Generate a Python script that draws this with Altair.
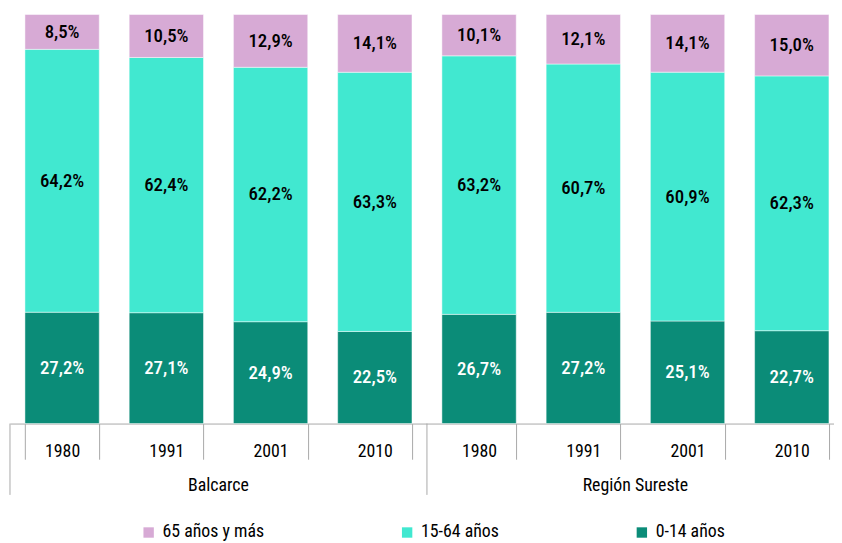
import altair as alt
import pandas as pd

regions = ["Balcarce", "Región Sureste"]
years = ["1980", "1991", "2001", "2010"]
age_groups = ["65 años y más", "15-64 años", "0-14 años"]
colors = ["#D7AAD5", "#41E8D0", "#0B8C78"]

v65 = [8.5, 10.5, 12.9, 14.1, 10.1, 12.1, 14.1, 15.0]
v1564 = [64.2, 62.4, 62.2, 63.3, 63.2, 60.7, 60.9, 62.3]
v014 = [27.2, 27.1, 24.9, 22.5, 26.7, 27.2, 25.1, 22.7]

FONT = "'Roboto Condensed', 'DejaVu Sans Condensed', Roboto, sans-serif"
PI = 0.287  # padding inner

keys = [f"{r}|{y}" for r in regions for y in years]
rows = []
for i, k in enumerate(keys):
    for order, (g, vals, tc) in enumerate(zip(["0-14 años", "15-64 años", "65 años y más"],
                                           [v014, v1564, v65],
                                           ["#FFFFFF", "#000000", "#000000"])):
        rows.append({"key": k, "age": g, "value": vals[i], "order": order, "tcolor": tc})
df = pd.DataFrame(rows)

xscale = alt.Scale(domain=keys, range=[0, 842], paddingInner=PI, paddingOuter=PI / 2)
xscale_step = alt.Scale(domain=keys, range=[0, 842], paddingInner=0, paddingOuter=0)

base = alt.Chart(df).transform_joinaggregate(
    total="sum(value)", groupby=["key"]
).transform_calculate(
    pct="datum.value / datum.total"
).transform_stack(
    stack="pct", groupby=["key"], as_=["y0", "y1"], sort=[alt.SortField("order", "ascending")]
).transform_calculate(
    ymid="(datum.y0 + datum.y1) / 2",
    label="replace(format(datum.value, '.1f'), '.', ',') + '%'"
)

yscale = alt.Scale(domain=[0, 1])

xaxis = alt.Axis(
    title=None, labelExpr="split(datum.value, '|')[1]", labelAngle=0,
    labelFont=FONT, labelFontSize=18, labelColor="#000000",
    labelPadding=-8, labelBaseline="middle",
    tickBand="extent", tickSize=36, tickColor="#A8A8A8", domainColor="#A8A8A8",
    tickWidth=1, domainWidth=1)

bars = base.mark_bar(stroke="#FFFFFF", strokeWidth=0.8, strokeOpacity=0.6).encode(
    x=alt.X("key:N", scale=xscale, axis=xaxis),
    y=alt.Y("y0:Q", scale=yscale, axis=None),
    y2="y1:Q",
    color=alt.Color("age:N", scale=alt.Scale(domain=age_groups, range=colors),
                    legend=alt.Legend(orient="none", legendX=131, legendY=514,
                                      direction="horizontal", columns=3, title=None,
                                      symbolType="square", symbolSize=110, symbolStrokeWidth=0,
                                      labelFont=FONT, labelFontSize=18, labelColor="#000000",
                                      labelOffset=5, columnPadding=135, padding=0)),
)

texts = base.mark_text(font=FONT, fontSize=19, fontWeight=500).encode(
    x=alt.X("key:N", scale=xscale, axis=xaxis),
    y=alt.Y("ymid:Q", scale=yscale, axis=None),
    text="label:N",
    color=alt.Color("tcolor:N", scale=None),
)

sep_df = pd.DataFrame({"key": [keys[0], keys[4]]})
seps = alt.Chart(sep_df).mark_rule(color="#A8A8A8", strokeWidth=1).encode(
    x=alt.X("key:N", scale=xscale_step, bandPosition=0, axis=None),
    y=alt.value(413), y2=alt.value(485),
)

grp_df = pd.DataFrame({"key": [keys[1], keys[5]], "region": regions})
grp = alt.Chart(grp_df).mark_text(font=FONT, fontSize=18, color="#000000", baseline="middle").encode(
    x=alt.X("key:N", scale=xscale_step, bandPosition=1, axis=None),
    y=alt.value(476),
    text="region:N",
)

chart = alt.layer(
    alt.layer(bars, texts),
    alt.layer(seps, grp),
).resolve_scale(x="independent").properties(
    width=832, height=413,
    autosize=alt.AutoSizeParams(type="none"),
    padding={"left": 2, "top": 4, "right": 0, "bottom": 118},
    background="#FFFFFF",
).configure_view(stroke=None)

chart.save("out.html", embed_options={"renderer": "svg", "actions": False})
